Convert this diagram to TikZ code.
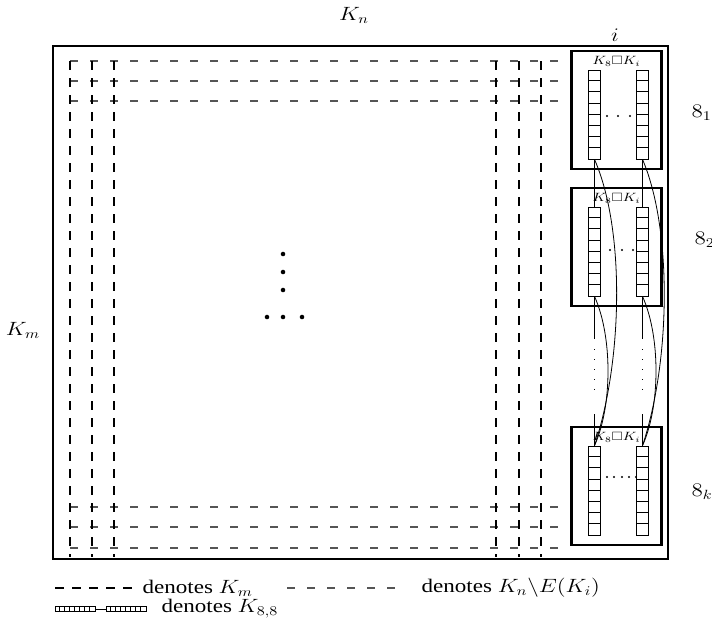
\documentclass[tikz,border=0pt]{standalone}
\usepackage{amsmath,amssymb}
\usepackage{graphicx}
\usepackage[no-math]{fontspec}
\setmainfont{Liberation Serif}
\usetikzlibrary{positioning}
\definecolor{RowGray}{RGB}{85,85,85}
\newcommand{\hwide}[1]{\scalebox{1.2}[1]{#1}}
\tikzset{
  cbox/.style={rectangle, draw, line width=2.2pt, minimum width=67.5pt,
    minimum height=88.5pt, inner sep=0pt},
  col/.style={rectangle, draw, line width=0.6pt, minimum width=9pt,
    minimum height=66.75pt, inner sep=0pt},
  minicol/.style={rectangle, draw, line width=0.5pt, minimum width=30pt,
    minimum height=3.75pt, inner sep=0pt},
  kmline/.style={line width=2pt, dash pattern=on 6.75pt off 6pt},
  rowline/.style={line width=1.1pt, draw=RowGray, dash pattern=on 6pt off 9pt},
  link/.style={line width=0.6pt},
  lbl/.style={font=\Large, inner sep=1pt}
}

\begin{document}
\begin{tikzpicture}[x=0.75pt, y=-0.75pt]
  \useasboundingbox (0,0) rectangle (712,633);
  % outer frame
  \node[draw, line width=1.5pt, minimum width=461.25pt, minimum height=384.75pt,
    inner sep=0pt] (outer) at (360.5,302.5) {};
  \node[lbl] (kn) at (354,15) {\hwide{$K_n$}};
  \node[lbl] (km) at (23,330) {\hwide{$K_m$}};
  % rows and columns
  \foreach \y in {61,81,101,507,527,548}
    \draw[rowline] (70,\y) -- (565,\y);
  \foreach \x in {70,92,114,496,519,541}
    \draw[kmline] (\x,61) -- (\x,557);
  \foreach \x in {267,283,302} \fill (\x,317) circle (1.7pt);
  \foreach \y in {254,272,290} \fill (283,\y) circle (1.7pt);
  % the K_8 boxes
  \node[cbox] (box1) at (616.5,110) {};
  \node[cbox] (box2) at (616.5,247) {};
  \node[cbox] (box3) at (616.5,486) {};
  \node[lbl] (ii) at (615,35) {\hwide{$i$}};
  \node[lbl, anchor=west] (e1) at (690,113) {\hwide{$8_1$}};
  \node[lbl, anchor=west] (e2) at (693,240) {\hwide{$8_2$}};
  \node[lbl, anchor=west] (ek) at (690,492) {\hwide{$8_k$}};
  \foreach \b in {1,2,3}{
    \node[font=\small, inner sep=0pt] (t\b) at ([shift={(0,12)}]box\b.north)
      {\hwide{$K_8\Box K_i$}};
    \node[col] (c\b L) at ([shift={(-22,4.5)}]box\b.center) {};
    \node[col] (c\b R) at ([shift={(26,4.5)}]box\b.center) {};
    \foreach \s in {L,R}
      \foreach \k in {1,...,7}
        \draw[link] (c\b\s.north west) ++(0,\k*11.125) -- ++(12,0);
  }
  \foreach \x in {-9.5,1.5,13.5} \fill ([shift={(\x,6)}]box1.center) circle (0.8pt);
  \foreach \x in {-6.5,5.5,16.5} \fill ([shift={(\x,3)}]box2.center) circle (0.8pt);
  \foreach \x in {-9.5,-2.5,5.5,12.5,19.5} \fill ([shift={(\x,-9)}]box3.center) circle (0.8pt);
  % links between the boxes
  \draw[link] (c1L.south) -- (c2L.north);
  \draw[link] (c1R.south) -- (c2R.north);
  \foreach \s in {L,R}{
    \draw[link] (c2\s.south) -- ++(0,43);
    \draw[link, dash pattern=on 0.8pt off 6.6pt] (c2\s.south) ++(0,53) -- ++(0,48);
    \draw[link] (c3\s.north) -- ++(0,-32);
    \draw[link] (c2\s.south) .. controls +(18,40) and +(18,-40) .. (c3\s.north);
  }
  \draw[link] (c1L.south) .. controls +(31,71) and +(28,-84) .. (c3L.north);
  \draw[link] (c1R.south) .. controls +(30,70) and +(28,-84) .. (c3R.north);
  % legend
  \coordinate (lgA) at (55,588);
  \coordinate (lgB) at (138,588);
  \coordinate (lgC) at (287,588);
  \coordinate (lgD) at (397,588);
  \draw[kmline] (lgA) -- (lgB);
  \node[lbl, anchor=west] (lgt1) at (141,588) {\hwide{denotes $K_m$}};
  \draw[rowline] (lgC) -- (lgD);
  \node[lbl, anchor=west] (lgt2) at (420,588) {\hwide{denotes $K_n\backslash E(K_i)$}};
  \node[minicol] (s1) at (75,609) {};
  \node[minicol] (s2) at (126,609) {};
  \foreach \k in {1,...,7}{
    \draw[line width=0.5pt] (s1.north west) ++(\k*5,0) -- ++(0,5);
    \draw[line width=0.5pt] (s2.north west) ++(\k*5,0) -- ++(0,5);
  }
  \draw[link] (s1.east) -- (s2.west);
  \node[lbl, anchor=west] (lgt3) at (160,609) {\hwide{denotes $K_{8,8}$}};
\end{tikzpicture}
\end{document}
